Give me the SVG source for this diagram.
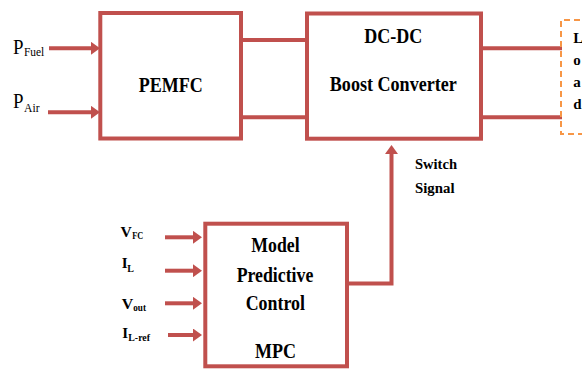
<svg xmlns="http://www.w3.org/2000/svg" width="582" height="371" viewBox="0 0 582 371">
  <defs>
    <style>
      .box { fill: #ffffff; stroke: #C0504D; stroke-width: 4; }
      .wire { fill: none; stroke: #C0504D; stroke-width: 4; }
      .load { fill: none; stroke: #F79646; stroke-width: 2; stroke-dasharray: 6 4; }
      .txt { font-family: "Liberation Serif", "Times New Roman", serif; fill: #000000; }
      .title { font-size: 21px; font-weight: bold; text-anchor: middle; }
      .sig { font-size: 15px; font-weight: bold; }
      .in { font-size: 20px; }
      .sub { font-size: 12px; }
      .bsub { font-size: 10px; font-weight: bold; }
    </style>
    <marker id="head" markerUnits="userSpaceOnUse" markerWidth="10" markerHeight="13" refX="0" refY="6.5" orient="auto">
      <path d="M0,0 L9,6.5 L0,13 z" fill="#C0504D"/>
    </marker>
  </defs>

  <!-- connectors -->
  <g id="connectors">
    <!-- gas inputs to the fuel cell -->
    <line class="wire" x1="49" y1="48.3" x2="91" y2="48.3" marker-end="url(#head)"/>
    <line class="wire" x1="48" y1="112.3" x2="91" y2="112.3" marker-end="url(#head)"/>
    <!-- fuel cell to converter -->
    <line class="wire" x1="243" y1="40" x2="305" y2="40"/>
    <line class="wire" x1="243" y1="117.3" x2="305" y2="117.3"/>
    <!-- converter to load -->
    <line class="wire" x1="483" y1="48.3" x2="562" y2="48.3"/>
    <line class="wire" x1="483" y1="117.3" x2="562" y2="117.3"/>
    <!-- measured inputs to the controller -->
    <line class="wire" x1="165" y1="237.3" x2="193" y2="237.3" marker-end="url(#head)"/>
    <line class="wire" x1="165" y1="270.7" x2="193" y2="270.7" marker-end="url(#head)"/>
    <line class="wire" x1="165" y1="303.3" x2="193" y2="303.3" marker-end="url(#head)"/>
    <line class="wire" x1="168" y1="335" x2="193" y2="335" marker-end="url(#head)"/>
    <!-- switch signal from controller to converter -->
    <polyline class="wire" points="349,283.5 391.5,283.5 391.5,154" marker-end="url(#head)"/>
    <text class="txt sig" x="415" y="169.3" textLength="42" lengthAdjust="spacingAndGlyphs">Switch</text>
    <text class="txt sig" x="415" y="193.3" textLength="39.5" lengthAdjust="spacingAndGlyphs">Signal</text>
  </g>

  <!-- input labels -->
  <g id="inputs">
    <text class="txt in" x="13" y="54.3" textLength="10.5" lengthAdjust="spacingAndGlyphs">P</text>
    <text class="txt sub" x="24" y="55.7" textLength="20.3" lengthAdjust="spacingAndGlyphs">Fuel</text>
    <text class="txt in" x="13" y="108.3" textLength="10.5" lengthAdjust="spacingAndGlyphs">P</text>
    <text class="txt sub" x="24" y="112" textLength="15.5" lengthAdjust="spacingAndGlyphs">Air</text>

    <text class="txt sig" x="120.5" y="236.7" textLength="11.3" lengthAdjust="spacingAndGlyphs">V</text>
    <text class="txt bsub" x="132.3" y="239.3" textLength="11" lengthAdjust="spacingAndGlyphs">FC</text>
    <text class="txt sig" x="121.7" y="268.3">I</text>
    <text class="txt bsub" x="127.3" y="271.7">L</text>
    <text class="txt sig" x="121.7" y="309.3" textLength="11.5" lengthAdjust="spacingAndGlyphs">V</text>
    <text class="txt bsub" x="133.3" y="310.7" textLength="12.7" lengthAdjust="spacingAndGlyphs">out</text>
    <text class="txt sig" x="122.3" y="338.3">I</text>
    <text class="txt bsub" x="128.3" y="340.7" textLength="21.7" lengthAdjust="spacingAndGlyphs">L-ref</text>
  </g>

  <!-- fuel cell -->
  <g id="pemfc">
    <rect class="box" x="100.3" y="13" width="140.7" height="125.5"/>
    <text class="txt title" x="170.7" y="91.5" textLength="64" lengthAdjust="spacingAndGlyphs">PEMFC</text>
  </g>

  <!-- boost converter -->
  <g id="converter">
    <rect class="box" x="307" y="13.5" width="174" height="125.2"/>
    <text class="txt title" x="393.3" y="43.3" textLength="58" lengthAdjust="spacingAndGlyphs">DC-DC</text>
    <text class="txt title" x="393.3" y="90.7" textLength="127" lengthAdjust="spacingAndGlyphs">Boost Converter</text>
  </g>

  <!-- load -->
  <g id="load">
    <path class="load" d="M590,20 L561,20 L561,134 L590,134"/>
    <text class="txt sig" x="573.3" y="43" font-size="14">L</text>
    <text class="txt sig" x="573.3" y="65" font-size="14">o</text>
    <text class="txt sig" x="573.3" y="87" font-size="14">a</text>
    <text class="txt sig" x="573.3" y="109" font-size="14">d</text>
  </g>

  <!-- predictive controller -->
  <g id="mpc">
    <rect class="box" x="205.3" y="223.7" width="141.7" height="142.6"/>
    <text class="txt title" x="275.5" y="251.7" textLength="48.3" lengthAdjust="spacingAndGlyphs">Model</text>
    <text class="txt title" x="275" y="281.7" textLength="76.7" lengthAdjust="spacingAndGlyphs">Predictive</text>
    <text class="txt title" x="275.3" y="310" textLength="59.3" lengthAdjust="spacingAndGlyphs">Control</text>
    <text class="txt title" x="275.5" y="358.3" textLength="41" lengthAdjust="spacingAndGlyphs">MPC</text>
  </g>
</svg>
